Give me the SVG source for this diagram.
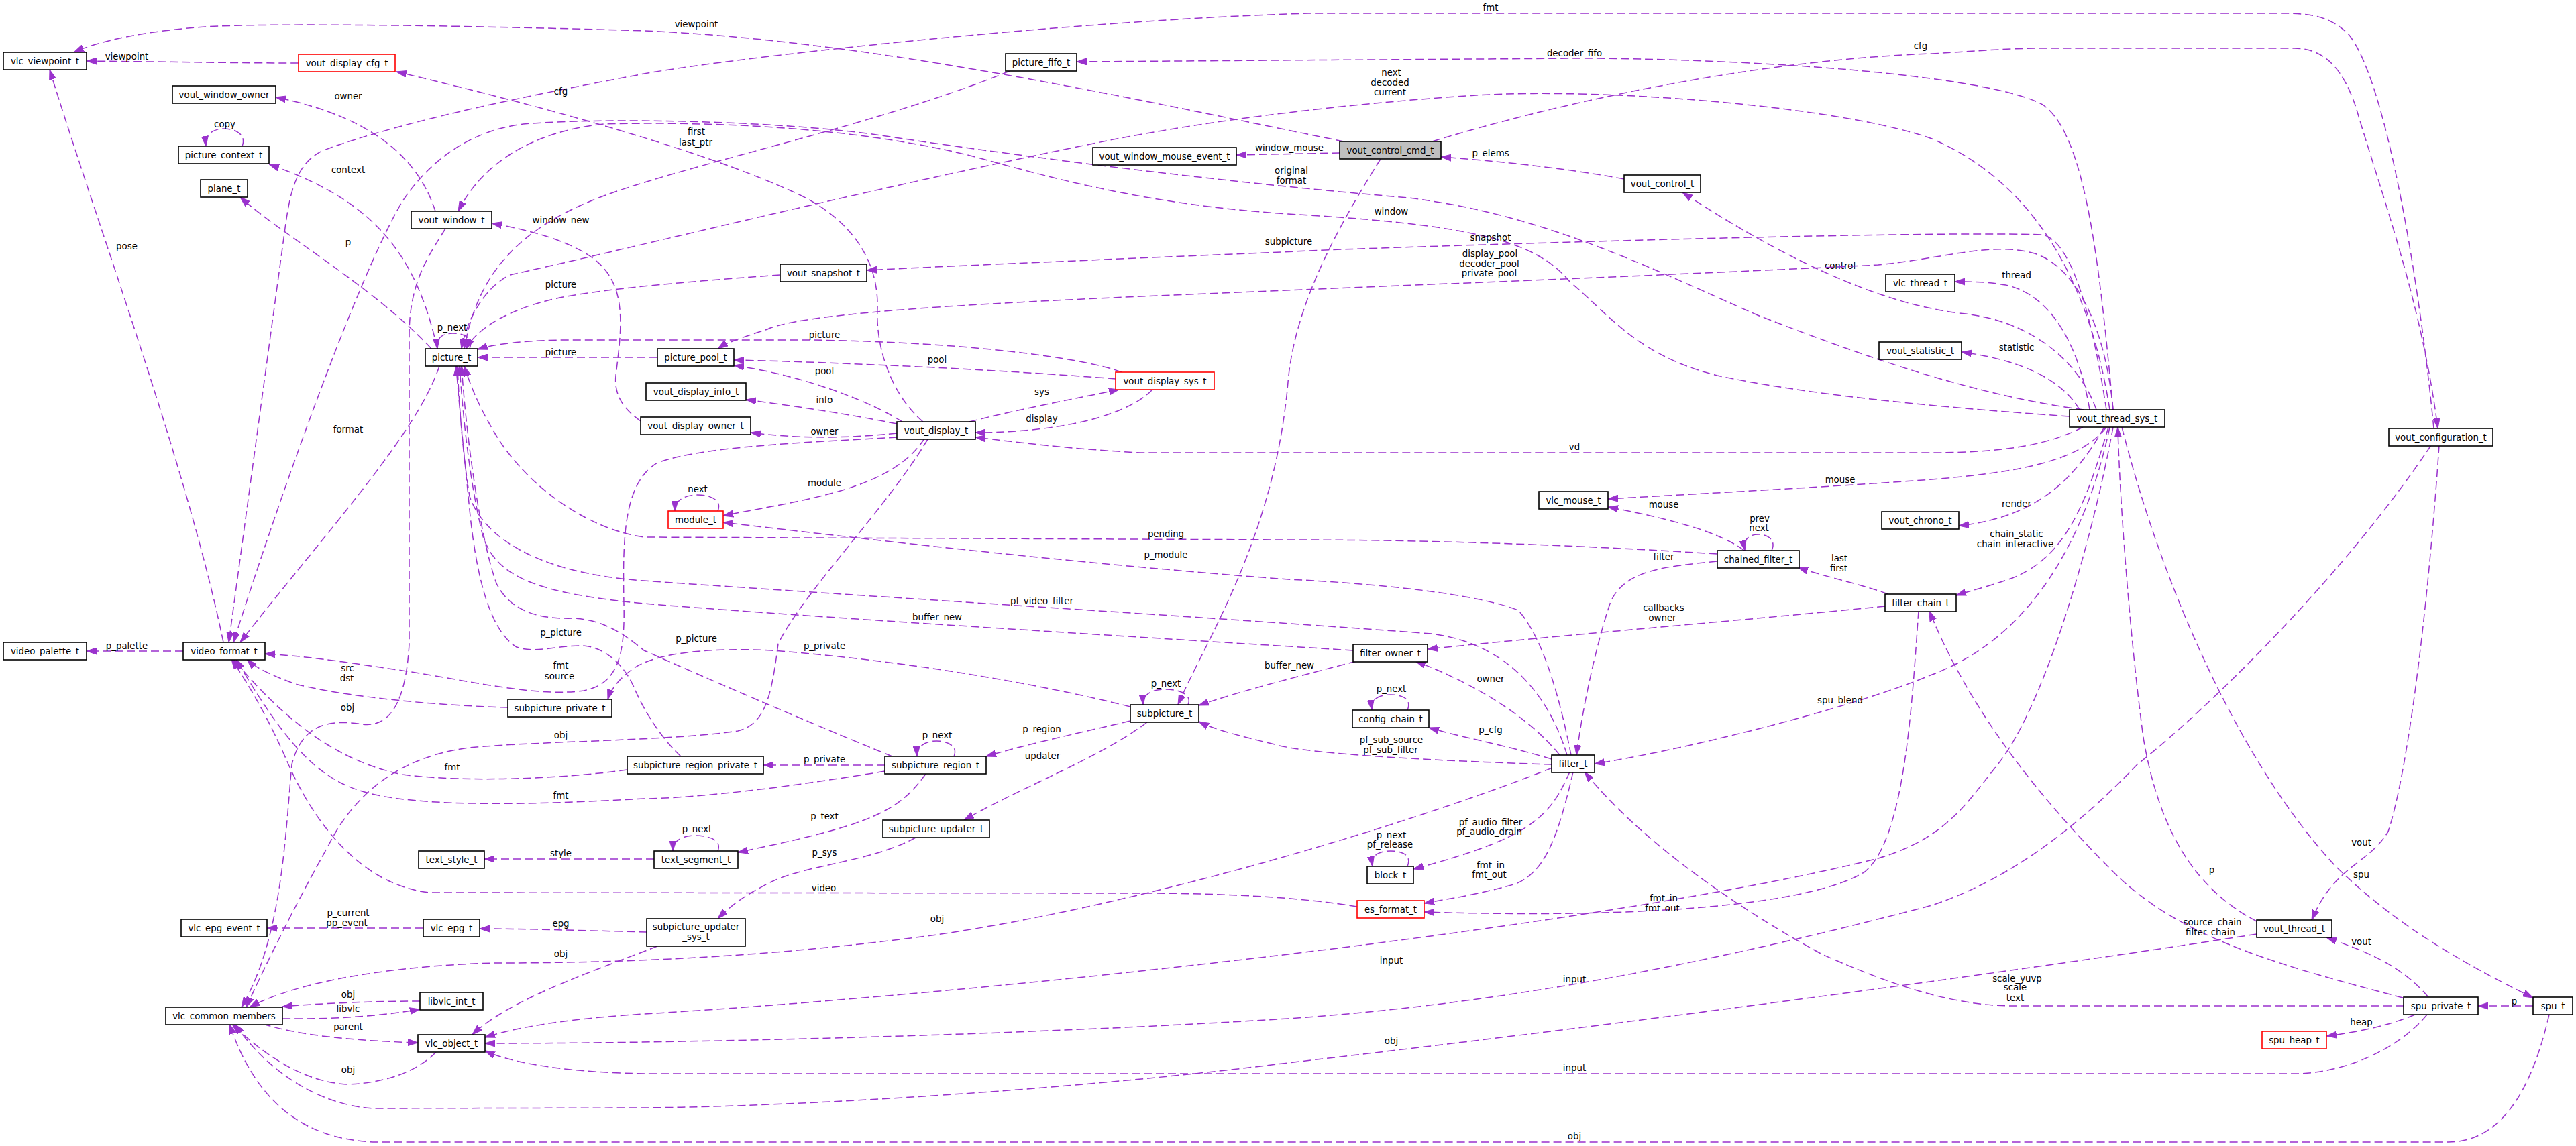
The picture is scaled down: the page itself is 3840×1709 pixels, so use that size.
<svg xmlns="http://www.w3.org/2000/svg" width="3840" height="1709" viewBox="0 0 3840 1709">
<style>
.node rect{fill:#fff;stroke:#000;stroke-width:1.6}
.node.red rect{stroke:#ff0000}
.node.main rect{fill:#bfbfbf}
text{font-family:"DejaVu Sans","Liberation Sans",sans-serif;font-size:13.33px;text-anchor:middle;fill:#000}
.edge path{fill:none;stroke:#9a32cd;stroke-width:1.5;stroke-dasharray:12,6;marker-end:url(#ah)}
</style>
<defs>
<marker id="ah" viewBox="0 0 15 11" refX="15" refY="5.5" markerWidth="15" markerHeight="11" markerUnits="userSpaceOnUse" orient="auto"><path d="M0,0.5 L15,5.5 L0,10.5 z" fill="#9a32cd" stroke="#9a32cd" stroke-width="1"/></marker>
</defs>
<rect width="3840" height="1709" fill="#fff"/>
<g id="edges">
<g class="edge"><path d="M445,94 C350,94 250,92 129,91"/><text x="189" y="89">viewpoint</text></g>
<g class="edge"><path d="M2003,211 C1700,150 1300,60 960,46 C700,38 400,34 306,40 C220,46 150,60 110,78"/><text x="1038" y="41">viewpoint</text></g>
<g class="edge"><path d="M3628,639 C3610,450 3560,120 3500,50 C3470,22 3440,20 3400,20 L1950,20 C1600,30 1100,85 960,110 C800,140 600,180 480,225 C440,245 432,290 425,340 L341,958"/><text x="2222" y="16">fmt</text></g>
<g class="edge"><path d="M2135,211 C2300,160 2600,90 2880,80 C2950,76 2990,72 3050,72 L3420,72 C3470,72 3495,110 3512,160 C3550,290 3610,450 3634,639"/><text x="2863" y="73">cfg</text></g>
<g class="edge"><path d="M649,315 C625,240 560,175 411,145"/><text x="519" y="148">owner</text></g>
<g class="edge"><path d="M361,218 C368,200 350,192 334,192 C318,192 305,200 307,218"/><text x="335" y="190">copy</text></g>
<g class="edge"><path d="M1376,629 C1330,590 1305,520 1308,460 C1310,380 1260,320 1180,285 C1080,240 900,180 591,107"/><text x="836" y="141">cfg</text></g>
<g class="edge"><path d="M652,520 C620,380 560,300 401,245"/><text x="519" y="258">context</text></g>
<g class="edge"><path d="M643,520 C560,430 420,350 358,294"/><text x="519" y="366">p</text></g>
<g class="edge"><path d="M955,628 C930,610 915,590 918,560 C925,500 935,440 900,400 C870,365 800,345 733,333"/><text x="836" y="333">window_new</text></g>
<g class="edge"><path d="M3085,621 C2900,608 2700,590 2560,560 C2440,530 2400,470 2340,420 C2290,360 2200,335 1920,319 C1700,305 1550,260 1450,233 C1300,195 1100,180 900,185 C800,195 720,240 683,315"/><text x="2074" y="320">window</text></g>
<g class="edge"><path d="M3106,611 C2950,590 2800,540 2620,470 C2450,395 2300,320 2100,295 C1800,270 1500,230 1300,200 C1150,180 900,175 780,185 C700,195 640,240 600,300 C540,400 430,700 348,958"/><text x="1925" y="259">original</text><text x="1925" y="274">format</text></g>
<g class="edge"><path d="M3145,611 C3120,450 3050,280 2880,207 C2750,160 2400,130 2200,142 C2000,155 1800,180 1650,210 C1300,280 900,380 760,410 C720,430 695,480 688,520"/><text x="2074" y="113">next</text><text x="2072" y="128">decoded</text><text x="2072" y="142">current</text></g>
<g class="edge"><path d="M1505,106 C1300,190 1000,250 880,300 C760,350 710,420 692,520"/><text x="1038" y="201">first</text><text x="1037" y="217">last_ptr</text></g>
<g class="edge"><path d="M3150,611 C3130,400 3110,200 3045,156 C2960,110 2600,87 2349,87 L1605,92"/><text x="2347" y="84">decoder_fifo</text></g>
<g class="edge"><path d="M1997,228 L1843,231"/><text x="1922" y="225">window_mouse</text></g>
<g class="edge"><path d="M2421,267 C2330,250 2230,240 2148,234"/><text x="2222" y="233">p_elems</text></g>
<g class="edge"><path d="M3125,611 C3100,540 3030,480 2930,468 C2800,455 2650,380 2508,287"/><text x="2743" y="401">control</text></g>
<g class="edge"><path d="M3150,611 C3140,500 3100,400 3033,378 C2970,360 2900,385 2800,395 C2500,410 2100,425 1800,438 C1500,450 1200,465 1144,491 C1110,502 1085,510 1070,520"/><text x="2221" y="383">display_pool</text><text x="2220" y="398">decoder_pool</text><text x="2220" y="412">private_pool</text></g>
<g class="edge"><path d="M3140,611 C3120,480 3090,360 3045,350 C2900,345 2400,358 2000,372 C1700,385 1450,395 1292,403"/><text x="2222" y="359">snapshot</text></g>
<g class="edge"><path d="M2058,237 C2000,330 1930,450 1920,570 C1900,800 1800,950 1756,1051"/><text x="1921" y="365">subpicture</text></g>
<g class="edge"><path d="M3140,637 C3100,690 3000,705 2880,715 C2700,728 2500,738 2397,744"/><text x="2743" y="720">mouse</text></g>
<g class="edge"><path d="M2600,821 C2560,790 2470,770 2397,756"/><text x="2480" y="757">mouse</text></g>
<g class="edge"><path d="M2641,821 C2648,806 2636,797 2621,797 C2606,797 2598,806 2601,821"/><text x="2623" y="778">prev</text><text x="2622" y="792">next</text></g>
<g class="edge"><path d="M2560,837 C2480,845 2420,850 2400,900 C2380,960 2360,1050 2350,1126"/><text x="2480" y="835">filter</text></g>
<g class="edge"><path d="M2560,826 C2300,810 2100,805 1920,805 L960,801 C880,790 790,730 740,650 C710,600 700,570 692,546"/><text x="1738" y="801">pending</text></g>
<g class="edge"><path d="M2342,1126 C2325,1040 2300,950 2263,910 C2200,885 2050,870 1920,864 C1600,840 1300,805 1078,779"/><text x="1738" y="832">p_module</text></g>
<g class="edge"><path d="M2336,1126 C2310,1040 2250,960 2134,945 C1800,920 1300,890 960,866 C800,855 720,800 700,740 C690,680 684,600 682,546"/><text x="1553" y="901">pf_video_filter</text></g>
<g class="edge"><path d="M2017,970 C1700,950 1200,920 960,900 C800,885 740,860 720,800 C700,720 690,620 685,546"/><text x="1397" y="925">buffer_new</text></g>
<g class="edge"><path d="M2022,986 C1950,1005 1850,1030 1787,1052"/><text x="1922" y="997">buffer_new</text></g>
<g class="edge"><path d="M1330,1128 C1200,1075 1050,1010 960,970 C930,945 900,925 857,922 C800,924 760,910 740,870 C715,800 695,650 688,546"/><text x="1038" y="957">p_picture</text></g>
<g class="edge"><path d="M1015,1128 C985,1100 960,1060 945,1025 C930,990 900,965 870,963 C830,962 800,975 770,965 C730,940 710,860 700,760 C692,680 684,600 680,546"/><text x="836" y="948">p_picture</text></g>
<g class="edge"><path d="M655,546 C620,650 480,800 358,958"/><text x="519" y="645">format</text></g>
<g class="edge"><path d="M1163,410 C1050,418 900,430 830,445 C760,460 710,490 695,520"/><text x="836" y="429">picture</text></g>
<g class="edge"><path d="M980,533 L712,533"/><text x="836" y="530">picture</text></g>
<g class="edge"><path d="M1672,555 C1620,535 1450,510 1205,507 L850,507 C790,507 740,512 712,521"/><text x="1229" y="504">picture</text></g>
<g class="edge"><path d="M1663,565 C1500,552 1250,540 1094,537"/><text x="1397" y="541">pool</text></g>
<g class="edge"><path d="M1345,629 C1300,600 1200,560 1094,545"/><text x="1229" y="558">pool</text></g>
<g class="edge"><path d="M1445,629 C1520,610 1600,595 1668,581"/><text x="1553" y="589">sys</text></g>
<g class="edge"><path d="M1718,581 C1680,620 1580,645 1454,645"/><text x="1553" y="629">display</text></g>
<g class="edge"><path d="M3105,637 C3060,660 3000,675 2880,675 L1700,675 C1600,670 1520,660 1454,652"/><text x="2347" y="671">vd</text></g>
<g class="edge"><path d="M1337,632 C1250,615 1180,605 1112,596"/><text x="1229" y="601">info</text></g>
<g class="edge"><path d="M1337,646 C1250,655 1180,653 1119,645"/><text x="1229" y="648">owner</text></g>
<g class="edge"><path d="M1378,654 C1330,730 1200,745 1078,769"/><text x="1229" y="725">module</text></g>
<g class="edge"><path d="M1070,762 C1077,745 1058,738 1040,738 C1022,738 1006,745 1006,762"/><text x="1040" y="734">next</text></g>
<g class="edge"><path d="M1383,655 C1320,760 1200,880 1160,960 C1150,1040 1140,1080 1100,1090 C1000,1105 800,1105 700,1115 C580,1130 520,1200 490,1260 C440,1350 400,1430 367,1502"/><text x="836" y="1101">obj</text></g>
<g class="edge"><path d="M664,341 C640,380 610,420 610,500 L610,960 C605,1050 580,1085 540,1080 C490,1072 450,1080 435,1140 C425,1250 420,1400 360,1502"/><text x="518" y="1060">obj</text></g>
<g class="edge"><path d="M2314,1145 C2100,1230 1700,1350 1396,1394 C1200,1420 1000,1436 735,1436 C600,1440 450,1460 372,1502"/><text x="1397" y="1375">obj</text></g>
<g class="edge"><path d="M626,1493 C560,1493 480,1496 421,1501"/><text x="519" y="1488">obj</text></g>
<g class="edge"><path d="M421,1519 C500,1520 570,1515 626,1505"/><text x="519" y="1509">libvlc</text></g>
<g class="edge"><path d="M392,1527 C450,1545 530,1552 623,1555"/><text x="519" y="1536">parent</text></g>
<g class="edge"><path d="M650,1569 C620,1600 570,1615 520,1617 C460,1615 400,1580 346,1527"/><text x="519" y="1600">obj</text></g>
<g class="edge"><path d="M3364,1393 C3000,1450 2400,1530 1920,1585 C1600,1625 1200,1650 960,1652 L560,1653 C480,1650 400,1600 350,1527"/><text x="2074" y="1557">obj</text></g>
<g class="edge"><path d="M3800,1513 C3780,1600 3740,1703 3650,1703 L560,1703 C450,1700 380,1640 342,1527"/><text x="2347" y="1699">obj</text></g>
<g class="edge"><path d="M3150,637 C3120,800 3050,1050 2978,1140 C2930,1200 2900,1250 2800,1280 C2400,1380 1500,1480 960,1512 C830,1520 760,1535 723,1547"/><text x="2074" y="1437">input</text></g>
<g class="edge"><path d="M3624,664 C3500,850 3300,1050 3186,1140 C3100,1230 3000,1310 2880,1350 C2500,1450 2200,1500 1920,1519 C1500,1545 1000,1556 723,1556"/><text x="2347" y="1465">input</text></g>
<g class="edge"><path d="M3618,1513 C3580,1560 3500,1601 3420,1601 L980,1601 C850,1601 760,1585 723,1567"/><text x="2347" y="1597">input</text></g>
<g class="edge"><path d="M980,1411 C880,1450 760,1490 704,1543"/><text x="836" y="1427">obj</text></g>
<g class="edge"><path d="M964,1390 C880,1388 780,1385 715,1385"/><text x="836" y="1382">epg</text></g>
<g class="edge"><path d="M631,1384 L398,1384"/><text x="519" y="1366">p_current</text><text x="517" y="1381">pp_event</text></g>
<g class="edge"><path d="M975,1281 L722,1281"/><text x="836" y="1277">style</text></g>
<g class="edge"><path d="M1070,1269 C1077,1252 1055,1246 1037,1246 C1019,1246 1003,1252 1003,1269"/><text x="1039" y="1241">p_next</text></g>
<g class="edge"><path d="M1380,1154 C1340,1210 1300,1230 1100,1271"/><text x="1229" y="1222">p_text</text></g>
<g class="edge"><path d="M1365,1249 C1300,1285 1200,1290 1150,1315 C1110,1335 1090,1350 1070,1370"/><text x="1229" y="1276">p_sys</text></g>
<g class="edge"><path d="M2023,1352 C1950,1340 1850,1332 1700,1332 L640,1331 C540,1320 470,1230 430,1140 C400,1070 370,1020 345,983"/><text x="1228" y="1329">video</text></g>
<g class="edge"><path d="M1319,1150 C1200,1170 1050,1190 960,1191 C800,1200 620,1205 540,1180 C470,1160 420,1100 352,983"/><text x="836" y="1191">fmt</text></g>
<g class="edge"><path d="M935,1148 C850,1160 700,1168 600,1155 C500,1135 420,1070 348,983"/><text x="674" y="1149">fmt</text></g>
<g class="edge"><path d="M757,1055 C650,1052 520,1040 440,1020 C400,1005 380,995 368,983"/><text x="518" y="1001">src</text><text x="517" y="1016">dst</text></g>
<g class="edge"><path d="M1337,652 C1200,660 1050,665 980,690 C930,720 928,800 930,900 C932,980 920,1020 870,1030 C800,1040 700,1015 600,1000 C500,985 450,978 395,975"/><text x="836" y="997">fmt</text><text x="834" y="1013">source</text></g>
<g class="edge"><path d="M1685,1054 C1550,1020 1350,985 1150,970 C1050,965 970,975 940,1000 C920,1015 910,1030 906,1043"/><text x="1229" y="968">p_private</text></g>
<g class="edge"><path d="M1771,1051 C1778,1034 1755,1028 1737,1028 C1719,1028 1703,1034 1704,1051"/><text x="1738" y="1024">p_next</text></g>
<g class="edge"><path d="M1685,1075 C1600,1095 1530,1110 1470,1128"/><text x="1553" y="1092">p_region</text></g>
<g class="edge"><path d="M1710,1077 C1640,1130 1520,1175 1437,1223"/><text x="1554" y="1132">updater</text></g>
<g class="edge"><path d="M1422,1128 C1429,1111 1410,1105 1396,1105 C1382,1105 1366,1111 1367,1128"/><text x="1397" y="1101">p_next</text></g>
<g class="edge"><path d="M1319,1141 L1138,1141"/><text x="1229" y="1137">p_private</text></g>
<g class="edge"><path d="M2325,1126 C2280,1070 2200,1020 2110,986"/><text x="2222" y="1017">owner</text></g>
<g class="edge"><path d="M2810,904 C2600,925 2350,945 2128,968"/><text x="2480" y="911">callbacks</text><text x="2478" y="926">owner</text></g>
<g class="edge"><path d="M2815,886 C2770,870 2720,860 2680,846"/><text x="2742" y="837">last</text><text x="2741" y="852">first</text></g>
<g class="edge"><path d="M2098,1059 C2105,1042 2090,1036 2073,1036 C2056,1036 2043,1042 2045,1059"/><text x="2074" y="1032">p_next</text></g>
<g class="edge"><path d="M2313,1132 C2240,1110 2180,1100 2130,1085"/><text x="2222" y="1093">p_cfg</text></g>
<g class="edge"><path d="M2313,1140 C2150,1135 1950,1125 1900,1110 C1850,1098 1810,1088 1787,1076"/><text x="2074" y="1108">pf_sub_source</text><text x="2073" y="1123">pf_sub_filter</text></g>
<g class="edge"><path d="M2340,1151 C2310,1220 2280,1250 2107,1296"/><text x="2222" y="1231">pf_audio_filter</text><text x="2220" y="1245">pf_audio_drain</text></g>
<g class="edge"><path d="M2098,1292 C2105,1275 2090,1269 2073,1269 C2056,1269 2043,1275 2046,1292"/><text x="2074" y="1250">p_next</text><text x="2072" y="1264">pf_release</text></g>
<g class="edge"><path d="M2345,1151 C2320,1260 2300,1300 2260,1318 C2200,1335 2160,1340 2123,1347"/><text x="2222" y="1295">fmt_in</text><text x="2220" y="1309">fmt_out</text></g>
<g class="edge"><path d="M2860,911 C2850,1050 2840,1250 2780,1300 C2700,1350 2450,1370 2123,1360"/><text x="2480" y="1344">fmt_in</text><text x="2478" y="1359">fmt_out</text></g>
<g class="edge"><path d="M3145,637 C3110,800 3030,950 2880,1006 C2750,1060 2500,1120 2377,1139"/><text x="2743" y="1049">spu_blend</text></g>
<g class="edge"><path d="M3137,637 C3100,700 3050,770 2920,784"/><text x="3006" y="756">render</text></g>
<g class="edge"><path d="M3143,637 C3110,750 3080,830 3000,862 C2960,876 2940,880 2916,888"/><text x="3006" y="801">chain_static</text><text x="3004" y="816">chain_interactive</text></g>
<g class="edge"><path d="M3115,611 C3100,520 3060,440 2990,425 C2960,420 2940,420 2914,420"/><text x="3006" y="415">thread</text></g>
<g class="edge"><path d="M3100,611 C3070,560 3000,535 2924,525"/><text x="3006" y="523">statistic</text></g>
<g class="edge"><path d="M3364,1374 C3280,1330 3220,1250 3195,1100 C3175,950 3160,750 3157,637"/><text x="3297" y="1302">p</text></g>
<g class="edge"><path d="M3163,637 C3230,900 3350,1150 3480,1290 C3580,1390 3700,1450 3776,1488"/><text x="3520" y="1309">spu</text></g>
<g class="edge"><path d="M3636,664 C3620,900 3590,1150 3560,1240 C3530,1290 3480,1290 3446,1372"/><text x="3520" y="1261">vout</text></g>
<g class="edge"><path d="M3620,1487 C3580,1440 3530,1420 3468,1398"/><text x="3520" y="1409">vout</text></g>
<g class="edge"><path d="M3582,1488 C3400,1440 3250,1400 3150,1300 C3000,1150 2920,1020 2876,911"/><text x="3298" y="1380">source_chain</text><text x="3295" y="1395">filter_chain</text></g>
<g class="edge"><path d="M3583,1500 L3000,1500 C2900,1500 2800,1460 2716,1423 C2600,1360 2450,1260 2362,1151"/><text x="3007" y="1464">scale_yuvp</text><text x="3004" y="1477">scale</text><text x="3004" y="1493">text</text></g>
<g class="edge"><path d="M3600,1513 C3560,1530 3510,1540 3468,1545"/><text x="3520" y="1529">heap</text></g>
<g class="edge"><path d="M3776,1500 L3694,1500"/><text x="3748" y="1498">p</text></g>
<g class="edge"><path d="M273,971 L129,971"/><text x="189" y="968">p_palette</text></g>
<g class="edge"><path d="M333,958 C280,700 150,350 74,104"/><text x="189" y="372">pose</text></g>
<g class="edge"><path d="M700,520 C707,503 690,497 675,497 C660,497 650,503 652,520"/><text x="674" y="493">p_next</text></g>
</g>
<g id="n_vlc_viewpoint_t" class="node"><rect x="5" y="78" width="124" height="26"/><text x="67" y="96">vlc_viewpoint_t</text></g>
<g id="n_vout_display_cfg_t" class="node red"><rect x="445" y="81" width="144" height="26"/><text x="517" y="99">vout_display_cfg_t</text></g>
<g id="n_vout_window_owner" class="node"><rect x="257" y="128" width="154" height="26"/><text x="334" y="146">vout_window_owner</text></g>
<g id="n_picture_context_t" class="node"><rect x="266" y="218" width="135" height="26"/><text x="333.5" y="236">picture_context_t</text></g>
<g id="n_plane_t" class="node"><rect x="299" y="268" width="70" height="26"/><text x="334" y="286">plane_t</text></g>
<g id="n_vout_window_t" class="node"><rect x="613" y="315" width="120" height="26"/><text x="673" y="333">vout_window_t</text></g>
<g id="n_picture_t" class="node"><rect x="634" y="520" width="78" height="26"/><text x="673" y="538">picture_t</text></g>
<g id="n_picture_fifo_t" class="node"><rect x="1499" y="80" width="106" height="26"/><text x="1552" y="98">picture_fifo_t</text></g>
<g id="n_vout_window_mouse_event_t" class="node"><rect x="1629" y="220" width="214" height="26"/><text x="1736" y="238">vout_window_mouse_event_t</text></g>
<g id="n_vout_snapshot_t" class="node"><rect x="1163" y="394" width="129" height="26"/><text x="1227.5" y="412">vout_snapshot_t</text></g>
<g id="n_picture_pool_t" class="node"><rect x="980" y="520" width="114" height="26"/><text x="1037" y="538">picture_pool_t</text></g>
<g id="n_vout_display_sys_t" class="node red"><rect x="1663" y="555" width="147" height="26"/><text x="1736.5" y="573">vout_display_sys_t</text></g>
<g id="n_vout_control_cmd_t" class="node main"><rect x="1997" y="211" width="151" height="26"/><text x="2072.5" y="229">vout_control_cmd_t</text></g>
<g id="n_vout_control_t" class="node"><rect x="2421" y="261" width="114" height="26"/><text x="2478" y="279">vout_control_t</text></g>
<g id="n_vlc_thread_t" class="node"><rect x="2811" y="409" width="103" height="26"/><text x="2862.5" y="427">vlc_thread_t</text></g>
<g id="n_vout_statistic_t" class="node"><rect x="2801" y="510" width="123" height="26"/><text x="2862.5" y="528">vout_statistic_t</text></g>
<g id="n_vout_thread_sys_t" class="node"><rect x="3085" y="611" width="142" height="26"/><text x="3156" y="629">vout_thread_sys_t</text></g>
<g id="n_vout_configuration_t" class="node"><rect x="3561" y="639" width="155" height="26"/><text x="3638.5" y="657">vout_configuration_t</text></g>
<g id="n_vout_display_info_t" class="node"><rect x="963" y="571" width="149" height="26"/><text x="1037.5" y="589">vout_display_info_t</text></g>
<g id="n_vout_display_owner_t" class="node"><rect x="955" y="622" width="164" height="26"/><text x="1037" y="640">vout_display_owner_t</text></g>
<g id="n_vout_display_t" class="node"><rect x="1337" y="629" width="117" height="26"/><text x="1395.5" y="647">vout_display_t</text></g>
<g id="n_module_t" class="node red"><rect x="996" y="762" width="82" height="26"/><text x="1037" y="780">module_t</text></g>
<g id="n_vlc_mouse_t" class="node"><rect x="2294" y="733" width="103" height="26"/><text x="2345.5" y="751">vlc_mouse_t</text></g>
<g id="n_chained_filter_t" class="node"><rect x="2560" y="821" width="122" height="26"/><text x="2621" y="839">chained_filter_t</text></g>
<g id="n_vout_chrono_t" class="node"><rect x="2805" y="763" width="115" height="26"/><text x="2862.5" y="781">vout_chrono_t</text></g>
<g id="n_filter_chain_t" class="node"><rect x="2810" y="886" width="106" height="26"/><text x="2863" y="904">filter_chain_t</text></g>
<g id="n_filter_owner_t" class="node"><rect x="2017" y="961" width="111" height="26"/><text x="2072.5" y="979">filter_owner_t</text></g>
<g id="n_config_chain_t" class="node"><rect x="2016" y="1059" width="114" height="26"/><text x="2073" y="1077">config_chain_t</text></g>
<g id="n_filter_t" class="node"><rect x="2313" y="1126" width="64" height="26"/><text x="2345" y="1144">filter_t</text></g>
<g id="n_video_palette_t" class="node"><rect x="5" y="958" width="124" height="26"/><text x="67" y="976">video_palette_t</text></g>
<g id="n_video_format_t" class="node"><rect x="273" y="958" width="122" height="26"/><text x="334" y="976">video_format_t</text></g>
<g id="n_subpicture_private_t" class="node"><rect x="757" y="1043" width="155" height="26"/><text x="834.5" y="1061">subpicture_private_t</text></g>
<g id="n_subpicture_t" class="node"><rect x="1685" y="1051" width="102" height="26"/><text x="1736" y="1069">subpicture_t</text></g>
<g id="n_subpicture_region_t" class="node"><rect x="1319" y="1128" width="151" height="26"/><text x="1394.5" y="1146">subpicture_region_t</text></g>
<g id="n_subpicture_region_private_t" class="node"><rect x="935" y="1128" width="203" height="26"/><text x="1036.5" y="1146">subpicture_region_private_t</text></g>
<g id="n_text_segment_t" class="node"><rect x="975" y="1269" width="125" height="26"/><text x="1037.5" y="1287">text_segment_t</text></g>
<g id="n_text_style_t" class="node"><rect x="624" y="1269" width="98" height="26"/><text x="673" y="1287">text_style_t</text></g>
<g id="n_subpicture_updater_t" class="node"><rect x="1316" y="1223" width="159" height="26"/><text x="1395.5" y="1241">subpicture_updater_t</text></g>
<g id="n_subpicture_updater_sys_t" class="node"><rect x="964" y="1370" width="147" height="41"/><text x="1037.5" y="1387">subpicture_updater</text><text x="1037.5" y="1402">_sys_t</text></g>
<g id="n_vlc_epg_event_t" class="node"><rect x="270" y="1371" width="128" height="26"/><text x="334" y="1389">vlc_epg_event_t</text></g>
<g id="n_vlc_epg_t" class="node"><rect x="631" y="1371" width="84" height="26"/><text x="673" y="1389">vlc_epg_t</text></g>
<g id="n_libvlc_int_t" class="node"><rect x="626" y="1480" width="94" height="26"/><text x="673" y="1498">libvlc_int_t</text></g>
<g id="n_vlc_common_members" class="node"><rect x="247" y="1502" width="174" height="26"/><text x="334" y="1520">vlc_common_members</text></g>
<g id="n_vlc_object_t" class="node"><rect x="623" y="1543" width="100" height="26"/><text x="673" y="1561">vlc_object_t</text></g>
<g id="n_block_t" class="node"><rect x="2038" y="1292" width="69" height="26"/><text x="2072.5" y="1310">block_t</text></g>
<g id="n_es_format_t" class="node red"><rect x="2023" y="1343" width="100" height="26"/><text x="2073" y="1361">es_format_t</text></g>
<g id="n_vout_thread_t" class="node"><rect x="3364" y="1372" width="112" height="26"/><text x="3420" y="1390">vout_thread_t</text></g>
<g id="n_spu_private_t" class="node"><rect x="3583" y="1487" width="111" height="26"/><text x="3638.5" y="1505">spu_private_t</text></g>
<g id="n_spu_t" class="node"><rect x="3776" y="1487" width="59" height="26"/><text x="3805.5" y="1505">spu_t</text></g>
<g id="n_spu_heap_t" class="node red"><rect x="3372" y="1538" width="96" height="26"/><text x="3420" y="1556">spu_heap_t</text></g>
</svg>
